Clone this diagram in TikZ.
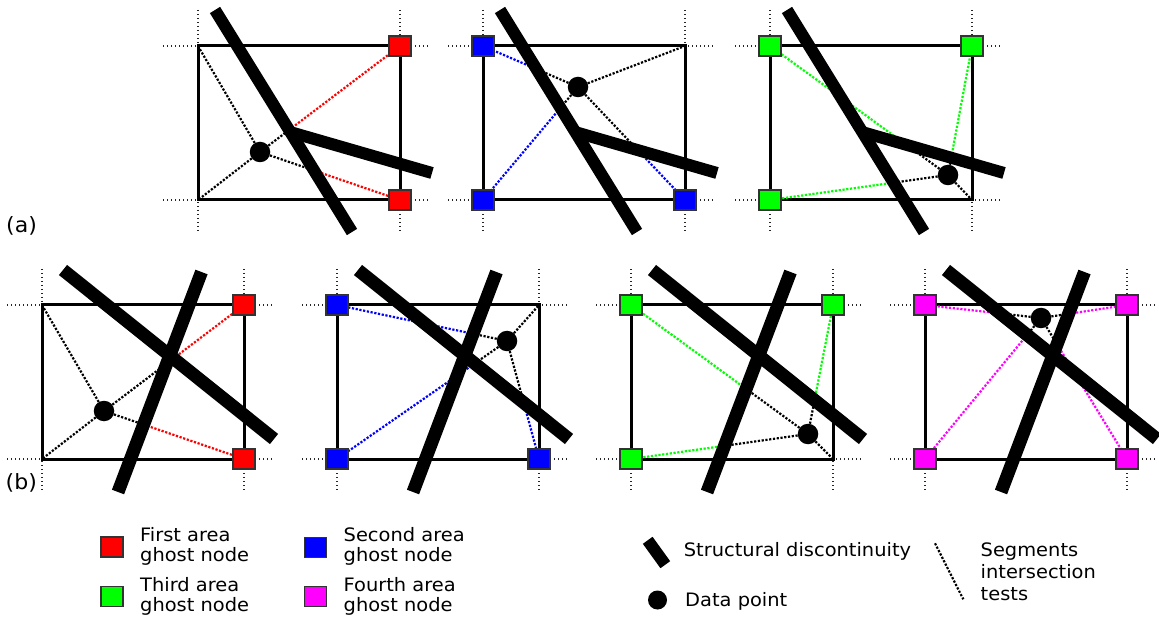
\documentclass[tikz,border=0pt]{standalone}
\usepackage{fontspec}
\setmainfont{DejaVu Sans}[FakeStretch=1.05]
\usetikzlibrary{intersections}
\pgfdeclarelayer{back}
\pgfdeclarelayer{mid}
\pgfsetlayers{back,mid,main}
\definecolor{ghred}{RGB}{255,0,0}
\definecolor{ghblue}{RGB}{0,0,255}
\definecolor{ghgreen}{RGB}{0,255,0}
\definecolor{ghmag}{RGB}{255,0,255}
\tikzset{
  frame/.style={line width=3},
  ext/.style={line width=1.2, dash pattern=on 1.2 off 2.8, black!85},
  disca/.style={line width=12},
  discb/.style={line width=13},
  testline/.style={line width=2.2, dash pattern=on 2.2 off 1.6},
  ghost/.style={rectangle, draw=black!80, line width=1.1, minimum width=22, minimum height=20, inner sep=0},
  datapt/.style={circle, fill=black, minimum size=20.5, inner sep=0},
  lbl/.style={font=\fontsize{18.5}{20}\selectfont, anchor=base west, inner sep=0},
  panlbl/.style={font=\fontsize{21}{24}\selectfont, anchor=base west, inner sep=0},
}
\newcommand\mkframe[1]{%
  \coordinate (#1tl) at (0,0); \coordinate (#1tr) at (202,0);
  \coordinate (#1bl) at (0,154); \coordinate (#1br) at (202,154);
  \begin{pgfonlayer}{back}
    \draw[ext] (-35,0) -- (232,0);
    \draw[ext] (-35,154) -- (232,154);
    \draw[ext] (0,-36) -- (0,186);
    \draw[ext] (202,-36) -- (202,186);
    \draw[frame] (#1tl) rectangle (#1br);
  \end{pgfonlayer}}
\newcommand\tseg[4]{%
  \path[name path=tsegpath] (#1) -- (#2);
  \path[name intersections={of=tsegpath and #3, by=tsegX}];
  \draw[testline] (#1) -- (tsegX);
  \draw[testline, #4] (tsegX) -- (#2);}
\begin{document}
\begin{tikzpicture}[x=1pt, y=-1pt]
\useasboundingbox (0,0) rectangle (1159,617);

% ---------------- (a) panel 1
\begin{scope}[shift={(198,46)}]
  \mkframe{a1}
  \node[datapt] (a1p) at (62,106) {};
  \node[ghost, fill=ghred] (a1gtr) at (a1tr) {};
  \node[ghost, fill=ghred] (a1gbr) at (a1br) {};
  \begin{pgfonlayer}{mid}
    \path[name path=a1L1] (17,-36) -- (154,186);
    \draw[testline] (a1p) -- (a1tl);
    \draw[testline] (a1p) -- (a1bl);
    \tseg{a1p}{a1gtr}{a1L1}{ghred}
    \tseg{a1p}{a1gbr}{a1L1}{ghred}
    \draw[disca] (17,-36) -- (154,186);
    \draw[disca] (92,86) -- (234,127);
  \end{pgfonlayer}
\end{scope}

% ---------------- (a) panel 2
\begin{scope}[shift={(483,46)}]
  \mkframe{a2}
  \node[datapt] (a2p) at (95,41) {};
  \node[ghost, fill=ghblue] (a2gtl) at (a2tl) {};
  \node[ghost, fill=ghblue] (a2gbl) at (a2bl) {};
  \node[ghost, fill=ghblue] (a2gbr) at (a2br) {};
  \begin{pgfonlayer}{mid}
    \path[name path=a2L1] (17,-36) -- (154,186);
    \path[name path=a2L2] (92,86) -- (234,127);
    \draw[testline] (a2p) -- (a2tr);
    \tseg{a2p}{a2gtl}{a2L1}{ghblue}
    \tseg{a2p}{a2gbl}{a2L1}{ghblue}
    \tseg{a2p}{a2gbr}{a2L2}{ghblue}
    \draw[disca] (17,-36) -- (154,186);
    \draw[disca] (92,86) -- (234,127);
  \end{pgfonlayer}
\end{scope}

% ---------------- (a) panel 3
\begin{scope}[shift={(770,46)}]
  \mkframe{a3}
  \node[datapt] (a3p) at (178,129) {};
  \node[ghost, fill=ghgreen] (a3gtl) at (a3tl) {};
  \node[ghost, fill=ghgreen] (a3gtr) at (a3tr) {};
  \node[ghost, fill=ghgreen] (a3gbl) at (a3bl) {};
  \begin{pgfonlayer}{mid}
    \path[name path=a3L1] (17,-36) -- (154,186);
    \path[name path=a3L2] (92,86) -- (234,127);
    \draw[testline] (a3p) -- (a3br);
    \tseg{a3p}{a3gtl}{a3L2}{ghgreen}
    \tseg{a3p}{a3gtr}{a3L2}{ghgreen}
    \tseg{a3p}{a3gbl}{a3L1}{ghgreen}
    \draw[disca] (17,-36) -- (154,186);
    \draw[disca] (92,86) -- (234,127);
  \end{pgfonlayer}
\end{scope}

% ---------------- (b) panel 1
\begin{scope}[shift={(42,305)}]
  \mkframe{b1}
  \node[datapt] (b1p) at (62,106) {};
  \node[ghost, fill=ghred] (b1gtr) at (b1tr) {};
  \node[ghost, fill=ghred] (b1gbr) at (b1br) {};
  \begin{pgfonlayer}{mid}
    \path[name path=b1LA] (21,-35) -- (232,134);
    \path[name path=b1LB] (159.5,-33) -- (76,187);
    \draw[testline] (b1p) -- (b1tl);
    \draw[testline] (b1p) -- (b1bl);
    \tseg{b1p}{b1gtr}{b1LB}{ghred}
    \tseg{b1p}{b1gbr}{b1LB}{ghred}
    \draw[discb] (21,-35) -- (232,134);
    \draw[discb] (159.5,-33) -- (76,187);
  \end{pgfonlayer}
\end{scope}

% ---------------- (b) panel 2
\begin{scope}[shift={(337,305)}]
  \mkframe{b2}
  \node[datapt] (b2p) at (170,36) {};
  \node[ghost, fill=ghblue] (b2gtl) at (b2tl) {};
  \node[ghost, fill=ghblue] (b2gbl) at (b2bl) {};
  \node[ghost, fill=ghblue] (b2gbr) at (b2br) {};
  \begin{pgfonlayer}{mid}
    \path[name path=b2LA] (21,-35) -- (232,134);
    \path[name path=b2LB] (159.5,-33) -- (76,187);
    \draw[testline] (b2p) -- (b2tr);
    \tseg{b2p}{b2gtl}{b2LB}{ghblue}
    \tseg{b2p}{b2gbl}{b2LA}{ghblue}
    \tseg{b2p}{b2gbr}{b2LA}{ghblue}
    \draw[discb] (21,-35) -- (232,134);
    \draw[discb] (159.5,-33) -- (76,187);
  \end{pgfonlayer}
\end{scope}

% ---------------- (b) panel 3
\begin{scope}[shift={(631,305)}]
  \mkframe{b3}
  \node[datapt] (b3p) at (177,129) {};
  \node[ghost, fill=ghgreen] (b3gtl) at (b3tl) {};
  \node[ghost, fill=ghgreen] (b3gtr) at (b3tr) {};
  \node[ghost, fill=ghgreen] (b3gbl) at (b3bl) {};
  \begin{pgfonlayer}{mid}
    \path[name path=b3LA] (21,-35) -- (232,134);
    \path[name path=b3LB] (159.5,-33) -- (76,187);
    \draw[testline] (b3p) -- (b3br);
    \tseg{b3p}{b3gtl}{b3LB}{ghgreen}
    \tseg{b3p}{b3gtr}{b3LA}{ghgreen}
    \tseg{b3p}{b3gbl}{b3LB}{ghgreen}
    \draw[discb] (21,-35) -- (232,134);
    \draw[discb] (159.5,-33) -- (76,187);
  \end{pgfonlayer}
\end{scope}

% ---------------- (b) panel 4
\begin{scope}[shift={(925,305)}]
  \mkframe{b4}
  \node[datapt] (b4p) at (116,13) {};
  \node[ghost, fill=ghmag] (b4gtl) at (b4tl) {};
  \node[ghost, fill=ghmag] (b4gtr) at (b4tr) {};
  \node[ghost, fill=ghmag] (b4gbl) at (b4bl) {};
  \node[ghost, fill=ghmag] (b4gbr) at (b4br) {};
  \begin{pgfonlayer}{mid}
    \path[name path=b4LA] (21,-35) -- (232,134);
    \path[name path=b4LB] (159.5,-33) -- (76,187);
    \tseg{b4p}{b4gtl}{b4LA}{ghmag}
    \tseg{b4p}{b4gtr}{b4LB}{ghmag}
    \tseg{b4p}{b4gbr}{b4LB}{ghmag}
    \tseg{b4p}{b4gbl}{b4LA}{ghmag}
    \draw[discb] (21,-35) -- (232,134);
    \draw[discb] (159.5,-33) -- (76,187);
  \end{pgfonlayer}
\end{scope}

% ---------------- panel labels
\node[panlbl] (labela) at (6,233) {(a)};
\node[panlbl] (labelb) at (5.5,489) {(b)};

% ---------------- legend
\node[ghost, fill=ghred] (lgred) at (112,547) {};
\node[lbl] (lgredt1) at (140,541.7) {First area};
\node[lbl] (lgredt2) at (140,561.7) {ghost node};
\node[ghost, fill=ghblue] (lgblue) at (315.3,547.5) {};
\node[lbl] (lgbluet1) at (343.5,541.7) {Second area};
\node[lbl] (lgbluet2) at (343.5,561.7) {ghost node};
\node[ghost, fill=ghgreen] (lggreen) at (112,596.5) {};
\node[lbl] (lggreent1) at (140,591.7) {Third area};
\node[lbl] (lggreent2) at (140,611) {ghost node};
\node[ghost, fill=ghmag] (lgmag) at (315.3,596.7) {};
\node[lbl] (lgmagt1) at (343.5,591.7) {Fourth area};
\node[lbl] (lgmagt2) at (343.5,611) {ghost node};

\draw[disca] (647.7,540.3) -- (665.3,564.7);
\node[lbl] (lgdisc) at (683.7,556) {Structural discontinuity};
\node[datapt, minimum size=19] (lgpt) at (657.5,600) {};
\node[lbl] (lgptt) at (685,606) {Data point};
\coordinate (lgsa) at (935,543.3);
\coordinate (lgsb) at (963.3,599.3);
\draw[testline] (lgsa) -- (lgsb);
\node[lbl] (lgseg1) at (980.5,556) {Segments};
\node[lbl] (lgseg2) at (980.5,578.5) {intersection};
\node[lbl] (lgseg3) at (980.5,600.5) {tests};
\end{tikzpicture}
\end{document}
